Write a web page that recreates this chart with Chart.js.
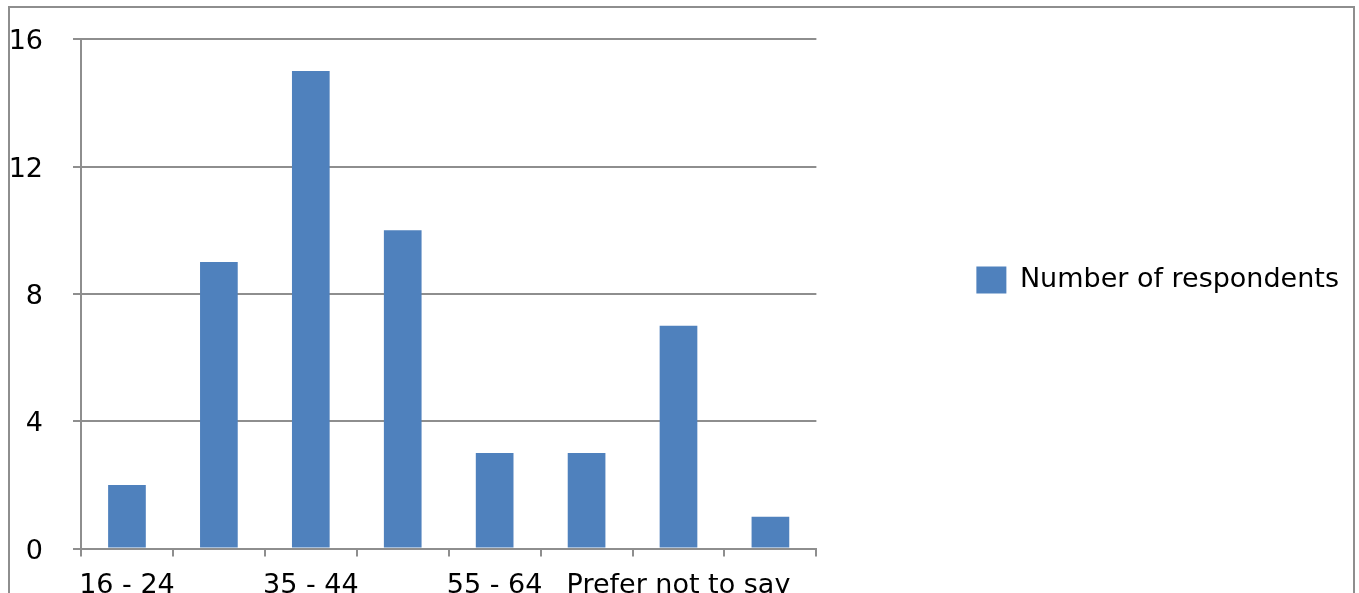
<!DOCTYPE html>
<html>
<head>
<meta charset="utf-8">
<script src="https://cdn.jsdelivr.net/npm/chart.js"></script>
<style>
  html, body { margin: 0; padding: 0; overflow: hidden; background: #fff; }
  #frame {
    position: absolute; left: 8px; top: 6px;
    width: 1343px; height: 640px;
    border: 2px solid #8e8e8e;
  }
  #wrap { position: absolute; left: 0; top: -15px; width: 1342px; height: 640px; }
</style>
</head>
<body>
<div id="frame">
  <div id="wrap"><canvas id="ageChart"></canvas></div>
</div>
<script>
const ageGroups = ['16 - 24', '25 - 34', '35 - 44', '45 - 54', '55 - 64', '65 +', 'Prefer not to say', 'No answer'];
const respondents = [2, 9, 15, 10, 3, 3, 7, 1];
const yTicks = [0, 4, 8, 12, 16];

const gridGrey = '#8e8e8e';
const fontFamily = "'DejaVu Sans', Verdana, sans-serif";

// nudge the legend up a little, it sits slightly above the middle of the plot
const legendShift = {
  id: 'legendShift',
  afterLayout(chart) {
    chart.legend.top -= 14;
    chart.legend.bottom -= 14;
  }
};

const ctx = document.getElementById('ageChart').getContext('2d');

const ageChart = new Chart(ctx, {
  type: 'bar',
  data: {
    labels: ageGroups,
    datasets: [{
      label: 'Number of respondents',
      data: respondents,
      backgroundColor: '#4f81bd',
      borderWidth: 0,
      categoryPercentage: 1,
      barPercentage: 0.41
    }]
  },
  options: {
    responsive: true,
    maintainAspectRatio: false,
    animation: false,
    layout: {
      padding: { top: 0, bottom: 18, left: 0, right: 3 }
    },
    scales: {
      x: {
        grid: {
          display: true,
          drawOnChartArea: false,
          offset: true,
          color: gridGrey,
          lineWidth: 2,
          tickLength: 8
        },
        border: { color: gridGrey, width: 2 },
        ticks: {
          color: '#000',
          font: { family: fontFamily, size: 27 },
          padding: 13,
          autoSkip: false,
          maxRotation: 0,
          callback: function(value, index) {
            return index % 2 === 0 ? ageGroups[index] : '';
          }
        }
      },
      y: {
        min: 0,
        max: 16,
        afterBuildTicks: function(scale) {
          scale.ticks = yTicks.map(v => ({ value: v }));
        },
        afterFit: function(scale) {
          scale.width = 71;
        },
        grid: {
          color: gridGrey,
          lineWidth: 2,
          tickLength: 8
        },
        border: { color: gridGrey, width: 2 },
        ticks: {
          color: '#000',
          font: { family: fontFamily, size: 27 },
          padding: 30,
          labelOffset: 3
        }
      }
    },
    plugins: {
      legend: {
        position: 'right',
        fullSize: false,
        maxWidth: 700,
        labels: {
          color: '#000',
          font: { family: fontFamily, size: 27 },
          boxWidth: 30,
          boxHeight: 27,
          padding: 160
        }
      },
      tooltip: { enabled: false }
    }
  },
  plugins: [legendShift]
});
</script>
</body>
</html>
